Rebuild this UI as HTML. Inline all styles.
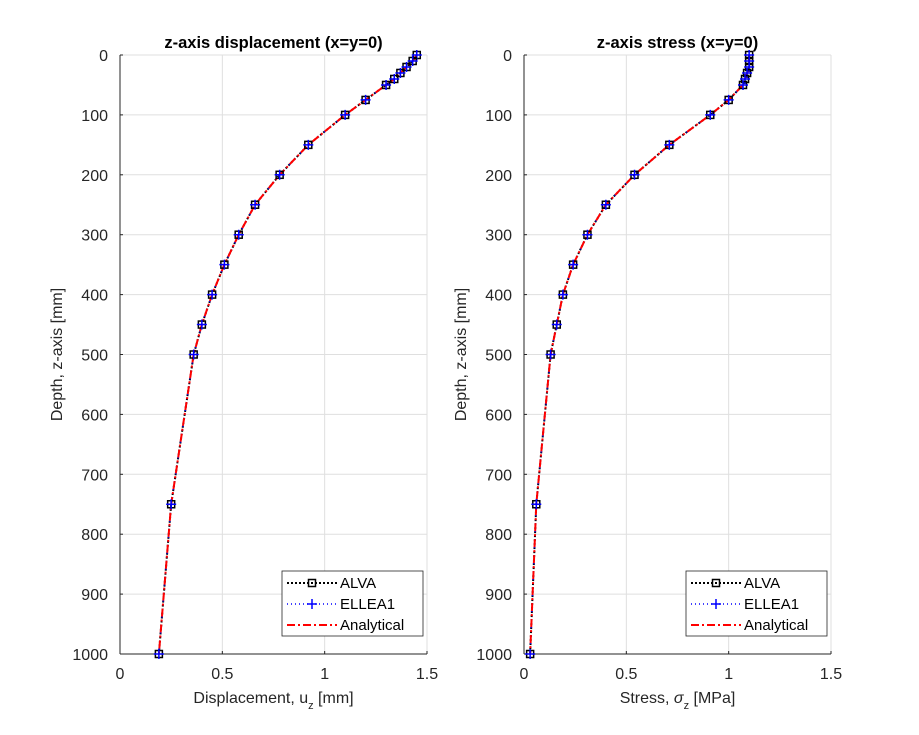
<!DOCTYPE html>
<html><head><meta charset="utf-8"><style>
body{margin:0;background:#fff}
svg{display:block;font-family:"Liberation Sans",Arial,sans-serif}
</style></head><body>
<svg id="c" width="919" height="735"></svg>
<script>
const depths=[0,10,20,30,40,50,75,100,150,200,250,300,350,400,450,500,750,1000];
const dispVals=[1.45,1.43,1.40,1.37,1.34,1.30,1.20,1.10,0.92,0.78,0.66,0.58,0.51,0.45,0.40,0.36,0.25,0.19];
const stressVals=[1.10,1.10,1.10,1.09,1.08,1.07,1.00,0.91,0.71,0.54,0.40,0.31,0.24,0.19,0.16,0.13,0.06,0.03];
const xTicks=[0,0.5,1,1.5];
const xTickLabels=["0","0.5","1","1.5"];
const yTicks=[0,100,200,300,400,500,600,700,800,900,1000];
const legendLabels=["ALVA","ELLEA1","Analytical"];
const NS="http://www.w3.org/2000/svg";
const svg=document.getElementById('c');
function mk(t,a,p){const e=document.createElementNS(NS,t);for(const k in a)e.setAttribute(k,a[k]);(p||svg).appendChild(e);return e;}
function panel(x0,name,title,xlab,vals){
  const g=mk('g',{});
  
  
  const W=307,y0=55,H=599;
  const sx=v=>x0+v/1.5*W, sy=d=>y0+d/1000*H;
  mk('rect',{x:x0,y:y0,width:W,height:H,fill:'#fff'},g);
  xTicks.forEach((t,i)=>{
    mk('line',{x1:sx(t),x2:sx(t),y1:y0,y2:y0+H,stroke:'#dfdfdf'},g);
    mk('line',{x1:sx(t),x2:sx(t),y1:y0+H,y2:y0+H-3,stroke:'#262626'},g);
    const tx=mk('text',{x:sx(t),y:y0+H+25,'font-size':16,'text-anchor':'middle',fill:'#262626'},g);tx.textContent=xTickLabels[i];
    
  });
  yTicks.forEach(t=>{
    mk('line',{x1:x0,x2:x0+W,y1:sy(t),y2:sy(t),stroke:'#dfdfdf'},g);
    mk('line',{x1:x0,x2:x0+3,y1:sy(t),y2:sy(t),stroke:'#262626'},g);
    const tx=mk('text',{x:x0-12,y:sy(t)+6,'font-size':16,'text-anchor':'end',fill:'#262626'},g);tx.textContent=t;
    
  });
  mk('line',{x1:x0,x2:x0,y1:y0,y2:y0+H,stroke:'#262626'},g);
  mk('line',{x1:x0,x2:x0+W,y1:y0+H,y2:y0+H,stroke:'#262626'},g);
  const pts=vals.map((v,i)=>sx(v)+','+sy(depths[i])).join(' ');
  const s1=mk('polyline',{points:pts,fill:'none',stroke:'#000','stroke-width':2,'stroke-dasharray':'2 2'},g);
  
  const s2=mk('polyline',{points:pts,fill:'none',stroke:'#00f','stroke-width':1.5,'stroke-dasharray':'1 3'},g);
  
  const s3=mk('polyline',{points:pts,fill:'none',stroke:'#f00','stroke-width':2,'stroke-dasharray':'8 3 2 3'},g);
  
  vals.forEach((v,i)=>{
    const x=sx(v),y=sy(depths[i]);
    const r=mk('rect',{x:x-3.5,y:y-3.5,width:7,height:7,fill:'none',stroke:'#000','stroke-width':1.5},g);
    
    const p=mk('path',{d:`M${x-5},${y}H${x+5}M${x},${y-5}V${y+5}`,stroke:'#00f','stroke-width':1.5},g);
    
  });
  const tt=mk('text',{x:x0+W/2,y:48,'font-size':16.5,'font-weight':'bold','text-anchor':'middle',fill:'#000'},g);tt.textContent=title;
  
  const xl=mk('text',{x:x0+W/2,y:703,'font-size':16,'text-anchor':'middle',fill:'#262626'},g);xl.innerHTML=xlab;
  
  const yl=mk('text',{x:0,y:0,'font-size':16,'text-anchor':'middle',fill:'#262626',transform:`translate(${x0-58},${y0+H/2}) rotate(-90)`},g);yl.textContent='Depth, z-axis [mm]';
  
  const lg=mk('g',{},g);
  
  const lx=x0+W-145,ly=571;
  mk('rect',{x:lx,y:ly,width:141,height:65,fill:'#fff',stroke:'#262626','stroke-width':0.8},lg);
  legendLabels.forEach((l,i)=>{
    const y=ly+12+i*21,a=lx+5,b=lx+55,m=(a+b)/2;
    if(i==0){mk('line',{x1:a,x2:b,y1:y,y2:y,stroke:'#000','stroke-width':2,'stroke-dasharray':'2 2'},lg);mk('rect',{x:m-3.5,y:y-3.5,width:7,height:7,fill:'none',stroke:'#000','stroke-width':1.5},lg);}
    if(i==1){mk('line',{x1:a,x2:b,y1:y,y2:y,stroke:'#00f','stroke-width':1.5,'stroke-dasharray':'1 3'},lg);mk('path',{d:`M${m-5},${y}H${m+5}M${m},${y-5}V${y+5}`,stroke:'#00f','stroke-width':1.5},lg);}
    if(i==2){mk('line',{x1:a,x2:b,y1:y,y2:y,stroke:'#f00','stroke-width':2,'stroke-dasharray':'8 3 2 3'},lg);}
    const t=mk('text',{x:lx+58,y:y+5,'font-size':15,fill:'#000'},lg);t.textContent=l;
    
  });
}
panel(120,'displacement-panel','z-axis displacement (x=y=0)','Displacement, u<tspan baseline-shift="sub" font-size="11">z</tspan> [mm]',dispVals);
panel(524,'stress-panel','z-axis stress (x=y=0)','Stress, <tspan font-style="italic">σ</tspan><tspan baseline-shift="sub" font-size="11">z</tspan> [MPa]',stressVals);
</script>
</body></html>
